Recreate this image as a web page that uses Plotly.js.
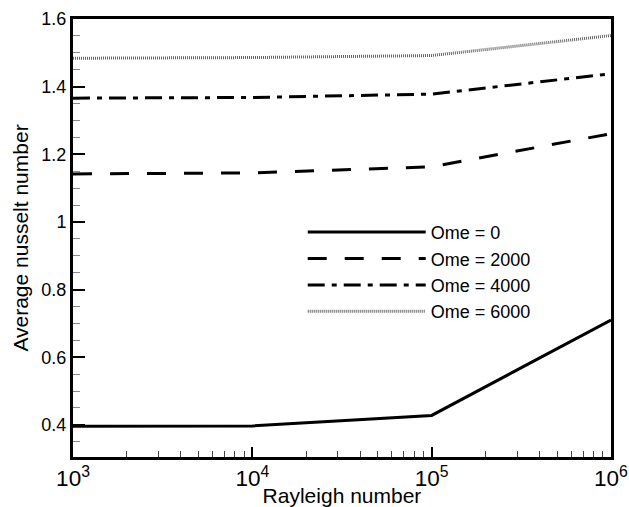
<!DOCTYPE html>
<html><head><meta charset="utf-8">
<script src="https://cdn.plot.ly/plotly-3.0.1.min.js"></script>
<style>html,body{margin:0;padding:0;background:#fff}#chart{width:629px;height:507px}</style>
</head><body><div id="chart"></div>
<script>
const rayleigh = [1e3, 1e4, 1e5, 1e6];
const ome0 = [0.396, 0.397, 0.428, 0.71];
const ome2000 = [1.142, 1.145, 1.163, 1.261];
const ome4000 = [1.366, 1.368, 1.378, 1.438];
const ome6000 = [1.484, 1.486, 1.492, 1.551];
const seriesNames = ['Ome = 0', 'Ome = 2000', 'Ome = 4000', 'Ome = 6000'];

const styles = [
  {color:'#000', width:3, dash:'solid'},
  {color:'#000', width:3, dash:'19px,18px'},
  {color:'#000', width:3, dash:'17px,7px,5px,7px'},
  {color:'#666', width:3, dash:'1px,1px'}
];
const ys = [ome0, ome2000, ome4000, ome6000];
const data = ys.map((y,i)=>({x:rayleigh, y:y, name:seriesNames[i], type:'scatter', mode:'lines', line:styles[i]}));

const font = {family:'"Liberation Sans", Arial, sans-serif', color:'#000'};
const f = s => Object.assign({size:s}, font);
const layout = {
  width:629, height:507,
  margin:{l:73, r:18, t:19, b:50},
  paper_bgcolor:'#fff', plot_bgcolor:'#fff',
  font:f(18),
  showlegend:true,
  legend:{x:0.427, y:0.555, xanchor:'left', yanchor:'top', bgcolor:'rgba(0,0,0,0)', itemwidth:118, font:f(18), tracegroupgap:0},
  xaxis:{type:'log', range:[2.99995,6.00005], showgrid:false, zeroline:false, showline:true, linewidth:3, linecolor:'#000', mirror:true,
    ticks:'inside', ticklen:10, tickwidth:2, tickcolor:'#000', dtick:1, exponentformat:'power', showexponent:'all',
    tickfont:f(18), ticklabeloverflow:'allow',
    minor:{ticks:'inside', ticklen:6, tickwidth:1, tickcolor:'#444', dtick:'D1', showgrid:false},
    title:{text:'Rayleigh number', font:f(21), standoff:5}},
  yaxis:{range:[0.305,1.6], showgrid:false, zeroline:false, showline:true, linewidth:3, linecolor:'#000', mirror:true,
    ticks:'inside', ticklen:12, tickwidth:2, tickcolor:'#000', dtick:0.2, tick0:0,
    tickfont:f(18),
    minor:{ticks:'inside', ticklen:7, tickwidth:1, tickcolor:'#888', dtick:0.05, tick0:0, showgrid:false},
    title:{text:'Average nusselt number', font:f(21), standoff:8}}
};
Plotly.newPlot('chart', data, layout, {staticPlot:true, displayModeBar:false});
</script></body></html>
